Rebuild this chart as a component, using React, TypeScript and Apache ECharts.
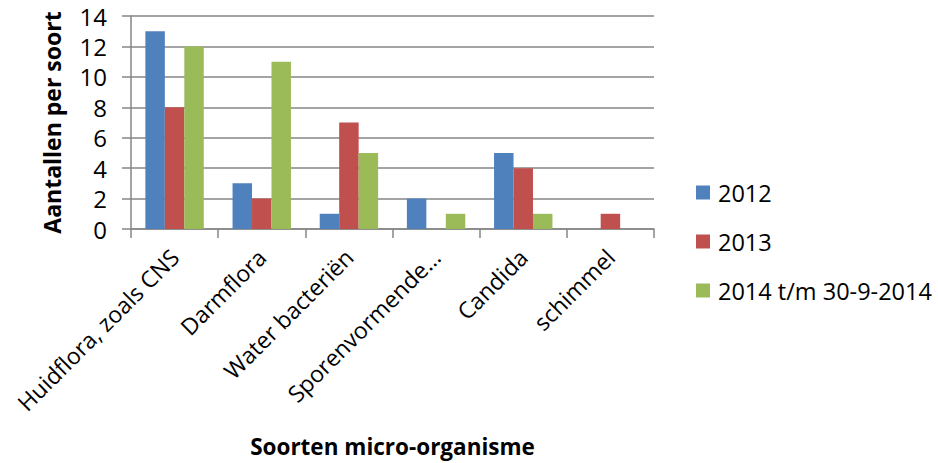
import React, { useEffect, useRef } from "react";
import * as echarts from "echarts";

const categories = ["Huidflora, zoals CNS", "Darmflora", "Water bacteriën", "Sporenvormende…", "Candida", "schimmel"];
const seriesNames = ["2012", "2013", "2014 t/m 30-9-2014"];
const values2012 = [13, 3, 1, 2, 5, 0];
const values2013 = [8, 2, 7, 0, 4, 1];
const values2014 = [12, 11, 5, 1, 1, 0];
const colors = ["#4F81BD", "#C0504D", "#9BBB59"];

const FONT = "'Open Sans', sans-serif";

export default function App() {
  const ref = useRef<HTMLDivElement>(null);
  useEffect(() => {
    if (!ref.current) return;
    const chart = echarts.init(ref.current, null, { renderer: "svg" });
    const data = [values2012, values2013, values2014];
    chart.setOption({
      animation: false,
      textStyle: { fontFamily: FONT },
      grid: { left: 131, top: 16, right: 284, bottom: 234, containLabel: false },
      legend: {
        orient: "vertical",
        left: 696,
        top: 177,
        padding: 0,
        itemWidth: 14,
        itemHeight: 14,
        itemGap: 18,
        icon: "rect",
        textStyle: { fontSize: 23.5, color: "#000", fontFamily: FONT, padding: [0, 0, 0, 3], lineHeight: 31 },
        data: seriesNames,
      },
      xAxis: {
        type: "category",
        data: categories,
        axisLine: { lineStyle: { color: "#868686", width: 1.5 } },
        axisTick: { show: true, length: 9, lineStyle: { color: "#868686", width: 1.5 } },
        axisLabel: { rotate: 45, fontSize: 23, color: "#000", margin: 24, fontFamily: FONT, interval: 0 },
        name: "Soorten micro-organisme",
        nameLocation: "middle",
        nameGap: 206,
        nameMoveOverlap: false,
        nameTextStyle: { fontSize: 22.5, fontWeight: "bold", color: "#000", fontFamily: FONT },
      },
      yAxis: {
        type: "value",
        min: 0,
        max: 14,
        interval: 2,
        axisLine: { show: true, lineStyle: { color: "#868686", width: 1.5 } },
        axisTick: { show: true, length: 9, lineStyle: { color: "#868686", width: 1.5 } },
        splitLine: { lineStyle: { color: "#868686", width: 1.5 } },
        axisLabel: { fontSize: 24, color: "#000", margin: 18, padding: [6, 6, 0, 0], fontFamily: FONT },
        name: "Aantallen per soort",
        nameLocation: "middle",
        nameGap: 68,
        nameMoveOverlap: false,
        nameTextStyle: { fontSize: 23, fontWeight: "bold", color: "#000", fontFamily: FONT },
      },
      series: seriesNames.map((n, i) => ({
        name: n,
        type: "bar",
        data: data[i],
        itemStyle: { color: colors[i] },
        barGap: "0%",
        barCategoryGap: "33%",
      })),
    });
    return () => chart.dispose();
  }, []);
  return <div ref={ref} style={{ position: "absolute", left: 0, top: 0, width: 938, height: 463 }} />;
}
